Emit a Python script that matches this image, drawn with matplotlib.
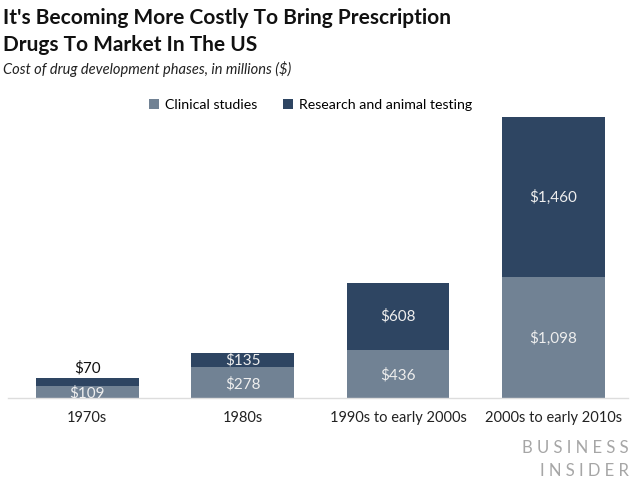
import matplotlib
matplotlib.use("Agg")
import matplotlib.pyplot as plt

categories = ["1970s", "1980s", "1990s to early 2000s", "2000s to early 2010s"]
clinical = [109, 278, 436, 1098]
research = [70, 135, 608, 1460]
series_names = ["Clinical studies", "Research and animal testing"]

c_clin = "#718294"
c_res = "#2e4562"

plt.rcParams['font.family'] = ['Lato', 'DejaVu Sans']

fig = plt.figure(figsize=(6.4, 4.8), dpi=100)
ax = fig.add_axes([0.0125, 0.1708, 0.96875, 0.5854])

x = list(range(len(categories)))
w = 0.66
b1 = ax.bar(x, clinical, width=w, color=c_clin, label=series_names[0])
b2 = ax.bar(x, research, width=w, bottom=clinical, color=c_res, label=series_names[1])

ax.set_xlim(-0.51, 3.48)
ax.set_ylim(0, sum([clinical[3], research[3]]))

for i in x:
    c = clinical[i]
    r = research[i]
    t = ax.text(i, c / 2 - 10, f"${c:,}", ha="center", va="center", color="#eeeeee",
                fontsize=11)
    t.set_clip_on(True)
    t.set_clip_box(ax.bbox)
    if r < 100:
        ax.text(i, c + r + 25, f"${r:,}", ha="center", va="bottom", color="#111111",
                fontsize=11)
    else:
        ax.text(i, c + r / 2, f"${r:,}", ha="center", va="center", color="#eeeeee",
                fontsize=11)

ax.set_xticks(x)
ax.set_xticklabels(categories, fontsize=10.5, color="#222222")
ax.tick_params(axis="x", length=0, pad=9)
ax.set_yticks([])
for s in ["top", "right", "left"]:
    ax.spines[s].set_visible(False)
ax.spines["bottom"].set_color("#dddddd")
ax.spines["bottom"].set_linewidth(1)

leg = fig.legend(handles=[b1, b2], labels=series_names, loc="center",
                 bbox_to_anchor=(0.485, 0.782), ncol=2, frameon=False,
                 fontsize=10.2, handlelength=0.75, handleheight=0.75,
                 handletextpad=0.4, columnspacing=1.8)

fig.text(0.005, 0.962, "It's Becoming More Costly To Bring Prescription", fontsize=15,
         fontweight="bold", ha="left", va="center", color="#111111")
fig.text(0.005, 0.906, "Drugs To Market In The US", fontsize=15,
         fontweight="bold", ha="left", va="center", color="#111111")
fig.text(0.005, 0.856, "Cost of drug development phases, in millions ($)", fontsize=10.5,
         style="italic", ha="left", va="center", color="#222222")

fig.text(0.982, 0.066, "B U S I N E S S", fontsize=12, ha="right", va="center", color="#a6a6a6")
fig.text(0.982, 0.019, "I N S I D E R", fontsize=12, ha="right", va="center", color="#a6a6a6")

fig.savefig("out.png", dpi=100)
